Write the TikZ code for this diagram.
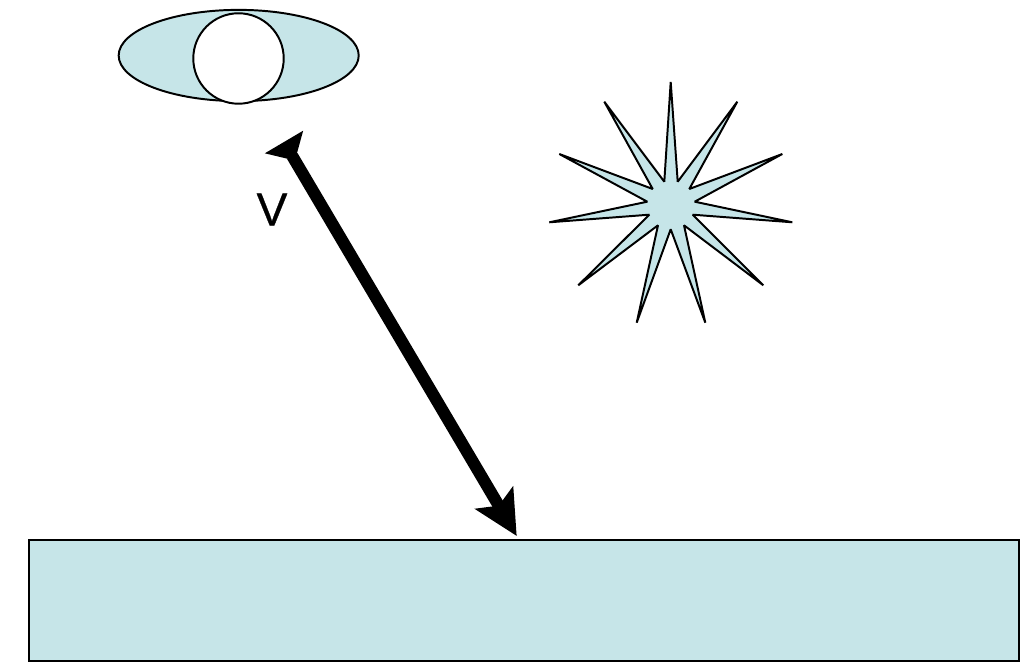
\documentclass[tikz,border=0pt]{standalone}
\usepackage{fontspec}
\setmainfont{Liberation Sans}
\newfontfamily\labelfont{Liberation Sans}[FakeBold=0.6]
\usetikzlibrary{arrows.meta,shapes.geometric}
\definecolor{SoftCyan}{RGB}{198,229,232}
\tikzset{
  outline/.style={draw,line width=0.7pt,inner sep=0pt,outer sep=0pt},
}
\begin{document}
\begin{tikzpicture}[x=0.0125cm,y=-0.0125cm]
\useasboundingbox (0,0) rectangle (1028,662);
\node[outline,ellipse,fill=SoftCyan,minimum width=3cm,minimum height=1.14cm] (eye) at (238.7,55.5) {};
\node[outline,circle,fill=white,minimum size=1.13cm] (pupil) at (238.5,58.5) {};
\node[outline,rectangle,fill=SoftCyan,minimum width=12.37cm,minimum height=1.516cm] (surface) at (524.3,600.6) {};
\draw[outline,fill=SoftCyan,line join=miter,miter limit=2] (670.7,82) -- (677.7,181.7) -- (737.3,101.7) -- (689.3,189)
  -- (782.3,154) -- (694.7,201.7) -- (792.3,222.3) -- (692.7,214.7)
  -- (763.3,285.3) -- (684,225.3) -- (705.3,322.7) -- (670.7,229.3)
  -- (636.7,322.7) -- (658,225.3) -- (578.3,285.3) -- (649.3,214.7)
  -- (549.3,222.3) -- (647.3,201.7) -- (559.3,154) -- (652.7,189)
  -- (604.3,101.7) -- (664.3,181.7) -- cycle;
\coordinate (vstart) at (284,142);
\coordinate (vend) at (516.7,536);
\draw[{Triangle[reversed,length=0.27cm,width=0.54cm]}-{Stealth[length=0.55cm,width=0.54cm,inset=0.11cm]},line width=0.15cm] (vstart) -- (vend);
\node[font=\labelfont\fontsize{16.4pt}{18pt}\selectfont,inner sep=0pt] (vlabel) at (272,209.5) {V};
\end{tikzpicture}
\end{document}
